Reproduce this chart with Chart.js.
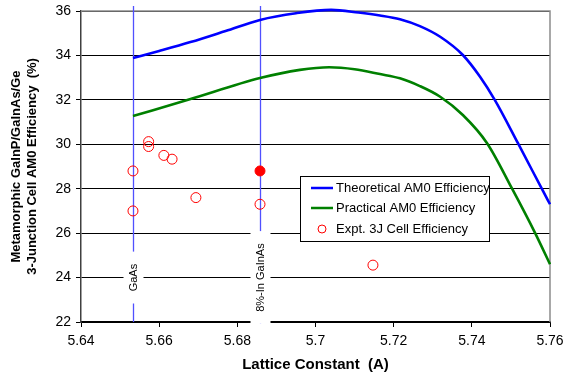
<!DOCTYPE html>
<html>
<head>
<meta charset="utf-8">
<script src="https://cdn.jsdelivr.net/npm/chart.js@4"></script>
<style>
html,body{margin:0;padding:0;background:#fff;}
#wrap{width:565px;height:375px;position:relative;}
</style>
</head>
<body>
<div id="wrap"><canvas id="c" width="565" height="375"></canvas></div>
<script>
// ---- data ----
const theoX = [5.6533, 5.660, 5.668, 5.677, 5.6858, 5.695, 5.704, 5.711, 5.7165, 5.7216, 5.7267, 5.7319, 5.7377, 5.7421, 5.7459, 5.7518, 5.7582, 5.760];
const theoY = [33.88, 34.20, 34.60, 35.10, 35.60, 35.90, 36.05, 35.93, 35.80, 35.63, 35.32, 34.84, 34.02, 33.04, 31.99, 30.05, 27.90, 27.30];
const pracX = [5.6533, 5.6674, 5.6858, 5.696, 5.7035, 5.710, 5.7165, 5.7216, 5.7267, 5.7319, 5.7377, 5.7439, 5.7503, 5.7562, 5.760];
const pracY = [31.27, 32.00, 32.98, 33.35, 33.47, 33.38, 33.16, 32.97, 32.62, 32.14, 31.32, 30.05, 28.00, 26.00, 24.60];
const exptX = [5.6533, 5.6533, 5.6573, 5.6573, 5.6612, 5.6633, 5.6694, 5.6858, 5.7147];
const exptY = [28.80, 27.00, 30.12, 29.90, 29.50, 29.33, 27.60, 27.30, 24.56];
const highlightX = [5.6858];
const highlightY = [28.80];
const markerX = [5.6533, 5.6858];
const markerLabels = ['GaAs', '8%-In GaInAs'];
const markerLabelY = 24;
const seriesLabels = ['Theoretical AM0 Efficiency', 'Practical AM0 Efficiency', 'Expt. 3J Cell Efficiency'];
const xTicks = [5.64, 5.66, 5.68, 5.70, 5.72, 5.74, 5.76];
const xTickLabels = ['5.64', '5.66', '5.68', '5.7', '5.72', '5.74', '5.76'];
const yTicks = [22, 24, 26, 28, 30, 32, 34, 36];
const xTitle = 'Lattice Constant  (A)';
const yTitle = ['Metamorphic GaInP/GaInAs/Ge', '3-Junction Cell AM0 Efficiency  (%)'];

const FONT = '"Liberation Sans", Arial, sans-serif';
const toPts = (xs, ys) => xs.map((x, i) => ({x: x, y: ys[i]}));

const markerPlugin = {
  id: 'markers',
  beforeDatasetsDraw(chart) {
    const {ctx, chartArea: a, scales: {x, y}} = chart;
    ctx.save();
    // frame top/right
    ctx.strokeStyle = '#8c8c8c';
    ctx.lineWidth = 1.5;
    ctx.beginPath();
    ctx.moveTo(a.left, a.top); ctx.lineTo(a.right, a.top); ctx.lineTo(a.right, a.bottom);
    ctx.stroke();
    ctx.font = '11px ' + FONT;
    markerX.forEach((mx, i) => {
      const px = Math.round(x.getPixelForValue(mx)) + 0.5;
      const py = y.getPixelForValue(markerLabelY);
      const w = ctx.measureText(markerLabels[i]).width;
      const gap = w / 2 + 12;
      ctx.strokeStyle = '#5050ff';
      ctx.lineWidth = 1.3;
      ctx.beginPath();
      ctx.moveTo(px, a.top - 5); ctx.lineTo(px, py - gap);
      ctx.moveTo(px, py + gap); ctx.lineTo(px, a.bottom);
      ctx.stroke();
      ctx.fillStyle = '#fff';
      ctx.fillRect(px - 10, py - gap, 20, gap * 2);
      ctx.translate(px, py);
      ctx.rotate(-Math.PI / 2);
      ctx.fillStyle = '#000';
      ctx.textAlign = 'center';
      ctx.textBaseline = 'middle';
      ctx.fillText(markerLabels[i], 0, 0);
      ctx.setTransform(1, 0, 0, 1, 0, 0);
    });
    ctx.restore();
  },
  afterDraw(chart) {
    const {ctx} = chart;
    ctx.save();
    const bx = 300.5, by = 176.5, bw = 189, bh = 65;
    ctx.fillStyle = '#fff';
    ctx.fillRect(bx, by, bw, bh);
    ctx.strokeStyle = '#000';
    ctx.lineWidth = 1;
    ctx.strokeRect(bx, by, bw, bh);
    ctx.font = '13px ' + FONT;
    ctx.textBaseline = 'middle';
    ctx.textAlign = 'left';
    const rows = [188, 208, 229];
    chart.data.datasets.slice(0, 3).forEach((ds, i) => {
      const yy = rows[i];
      if (i < 2) {
        ctx.strokeStyle = ds.borderColor;
        ctx.lineWidth = 2.5;
        ctx.beginPath(); ctx.moveTo(311, yy); ctx.lineTo(333, yy); ctx.stroke();
      } else {
        ctx.strokeStyle = ds.borderColor;
        ctx.lineWidth = 1;
        ctx.beginPath(); ctx.arc(322, yy, 4, 0, Math.PI * 2); ctx.stroke();
      }
      ctx.fillStyle = '#000';
      ctx.fillText(seriesLabels[i], 336, yy);
    });
    ctx.restore();
  }
};

new Chart(document.getElementById('c'), {
  type: 'scatter',
  data: {
    datasets: [
      {label: seriesLabels[0], data: toPts(theoX, theoY), showLine: true, borderColor: '#0000ff', borderWidth: 2.6, pointRadius: 0, cubicInterpolationMode: 'monotone', clip: 4, order: 2},
      {label: seriesLabels[1], data: toPts(pracX, pracY), showLine: true, borderColor: '#008000', borderWidth: 2.6, pointRadius: 0, cubicInterpolationMode: 'monotone', clip: 4, order: 2},
      {label: seriesLabels[2], data: toPts(exptX, exptY), showLine: false, borderColor: '#ff0000', backgroundColor: 'rgba(0,0,0,0)', pointRadius: 5, pointBorderWidth: 1, order: 1},
      {label: 'highlight', data: toPts(highlightX, highlightY), showLine: false, borderColor: '#ff0000', backgroundColor: '#ff0000', pointRadius: 5, pointBorderWidth: 1, order: 1}
    ]
  },
  options: {
    responsive: false,
    animation: false,
    devicePixelRatio: 1,
    layout: {padding: {top: 11, right: 15, left: 0, bottom: 0}},
    plugins: {legend: {display: false}, tooltip: {enabled: false}},
    scales: {
      x: {
        type: 'linear', min: 5.64, max: 5.76,
        afterBuildTicks: s => { s.ticks = xTicks.map(v => ({value: v})); },
        afterFit: s => { s.height = 53; s.paddingLeft = 0; s.paddingRight = 0; },
        ticks: {callback: (v) => xTickLabels[xTicks.findIndex(t => Math.abs(t - v) < 1e-9)], color: '#000', font: {family: FONT, size: 14}, padding: 6, maxRotation: 0, autoSkip: false},
        grid: {drawOnChartArea: false, drawTicks: true, tickLength: 5, color: '#000', lineWidth: 1},
        border: {color: '#000', width: 1.2},
        title: {display: true, text: xTitle, color: '#000', font: {family: FONT, size: 15, weight: 'bold'}, padding: {top: 0, bottom: 1}}
      },
      y: {
        type: 'linear', min: 22, max: 36,
        afterBuildTicks: s => { s.ticks = yTicks.map(v => ({value: v})); },
        afterFit: s => { s.width = 81; s.paddingTop = 0; s.paddingBottom = 0; },
        ticks: {color: '#000', font: {family: FONT, size: 14}, padding: 5},
        grid: {color: '#000', lineWidth: 1, tickLength: 5},
        border: {color: '#404040', width: 1.5},
        title: {display: true, text: yTitle, color: '#000', font: {family: FONT, size: 13, weight: 'bold', lineHeight: 1.2}, padding: {top: 9, bottom: 0}}
      }
    }
  },
  plugins: [markerPlugin]
});
</script>
</body>
</html>
